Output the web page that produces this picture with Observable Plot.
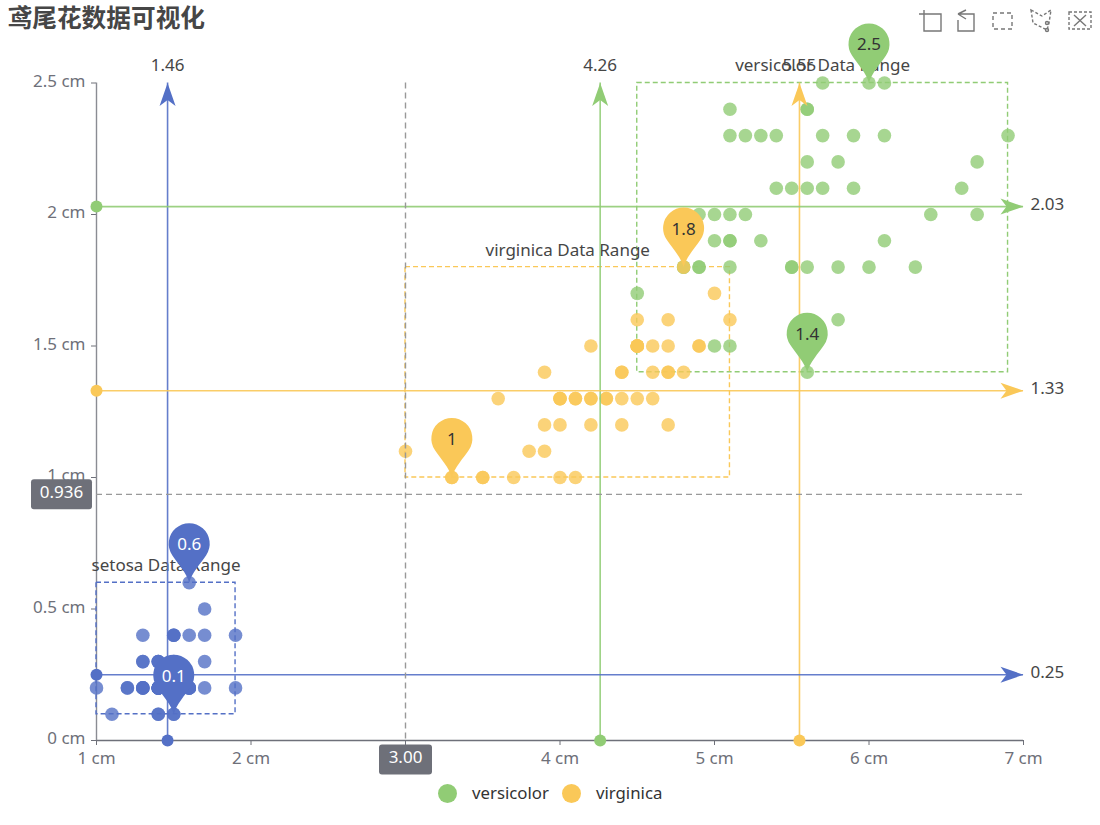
<!DOCTYPE html>
<html><head><meta charset="utf-8">
<script src="https://cdn.jsdelivr.net/npm/d3@7"></script>
<script src="https://cdn.jsdelivr.net/npm/@observablehq/plot@0.6"></script>
<style>
html,body{margin:0;padding:0;background:#fff;overflow:hidden}
#wrap{position:relative;width:1100px;height:825px;font-family:"Noto Sans","Noto Sans CJK SC",sans-serif}
#title{position:absolute;left:7.5px;top:-2px;font:bold 24.7px "Noto Sans CJK SC",sans-serif;color:#464646;line-height:36px}
#legend{position:absolute;top:781px;left:438px;display:flex;align-items:center;font-size:16.8px;color:#333;line-height:24px}
#legend i{display:inline-block;width:19px;height:19px;border-radius:50%;margin-right:15px}
#legend span{margin-right:13px}
#tools{position:absolute;left:915px;top:5px}
svg{display:block}
</style></head><body>
<div id="wrap">
<div id="title"></div>
<div id="chart"></div>
<div id="legend"></div>
<svg id="tools" width="180" height="35" fill="none" stroke="#777" stroke-width="1.4">
<path d="M9 9H26V26H9V5M4 9H13"/>
<path d="M43 9H59V26H43V15M43 9L51 5M43 9L51 14"/>
<path stroke-dasharray="4 3" d="M78 8H97V24H78Z"/>
<path stroke-dasharray="3 2" d="M116 5L127 11L136 5L134 18L132 25L118 18Z"/><circle cx="132" cy="25" r="1.5"/><circle cx="132" cy="18" r="1.5"/>
<path stroke-dasharray="3 2" d="M154 7H176V24H154Z"/><path d="M159 10L171 21M171 10L159 21"/>
</svg>
</div>
<script>
const titleText = "鸢尾花数据可视化";
const legendNames = ["versicolor", "virginica"];
const blue = "#5470C6", green = "#91CC75", yellow = "#FAC858", axisColor = "#6E7079", textColor = "#464646";

// [petal length, petal width]
const setosa = [[1.4,.2],[1.4,.2],[1.3,.2],[1.5,.2],[1.4,.2],[1.7,.4],[1.4,.3],[1.5,.2],[1.4,.2],[1.5,.1],[1.5,.2],[1.6,.2],[1.4,.1],[1.1,.1],[1.2,.2],[1.5,.4],[1.3,.4],[1.4,.3],[1.7,.3],[1.5,.3],[1.7,.2],[1.5,.4],[1,.2],[1.7,.5],[1.9,.2],[1.6,.2],[1.6,.4],[1.5,.2],[1.4,.2],[1.6,.2],[1.6,.2],[1.5,.4],[1.5,.1],[1.4,.2],[1.5,.2],[1.2,.2],[1.3,.2],[1.4,.1],[1.3,.2],[1.5,.2],[1.3,.3],[1.3,.3],[1.3,.2],[1.6,.6],[1.9,.4],[1.4,.3],[1.6,.2],[1.4,.2],[1.5,.2],[1.4,.2]];
const versicolorPts = [[6,2.5],[5.1,1.9],[5.9,2.1],[5.6,1.8],[5.8,2.2],[6.6,2.1],[4.5,1.7],[6.3,1.8],[5.8,1.8],[6.1,2.5],[5.1,2],[5.3,1.9],[5.5,2.1],[5,2],[5.1,2.4],[5.3,2.3],[5.5,1.8],[6.7,2.2],[6.9,2.3],[5,1.5],[5.7,2.3],[4.9,2],[6.7,2],[4.9,1.8],[5.7,2.1],[6,1.8],[4.8,1.8],[4.9,1.8],[5.6,2.1],[5.8,1.6],[6.1,1.9],[6.4,2],[5.6,2.2],[5.1,1.5],[5.6,1.4],[6.1,2.3],[5.6,2.4],[5.5,1.8],[4.8,1.8],[5.4,2.1],[5.6,2.4],[5.1,2.3],[5.1,1.9],[5.9,2.3],[5.7,2.5],[5.2,2.3],[5,1.9],[5.2,2],[5.4,2.3],[5.1,1.8]];
const virginicaPts = [[4.7,1.4],[4.5,1.5],[4.9,1.5],[4,1.3],[4.6,1.5],[4.5,1.3],[4.7,1.6],[3.3,1],[4.6,1.3],[3.9,1.4],[3.5,1],[4.2,1.5],[4,1],[4.7,1.4],[3.6,1.3],[4.4,1.4],[4.5,1.5],[4.1,1],[4.5,1.5],[3.9,1.1],[4.8,1.8],[4,1.3],[4.9,1.5],[4.7,1.2],[4.3,1.3],[4.4,1.4],[4.8,1.4],[5,1.7],[4.5,1.5],[3.5,1],[3.8,1.1],[3.7,1],[3.9,1.2],[5.1,1.6],[4.5,1.5],[4.5,1.6],[4.7,1.5],[4.4,1.3],[4.1,1.3],[4,1.3],[4.4,1.2],[4.6,1.4],[4,1.2],[3.3,1],[4.2,1.3],[4.2,1.2],[4.2,1.3],[4.3,1.3],[3,1.1],[4.1,1.3]];

const ranges = [
  {name:"setosa Data Range", x1:1, x2:1.9, y1:.1, y2:.6, c:blue},
  {name:"versicolor Data Range", x1:4.5, x2:6.9, y1:1.4, y2:2.5, c:green},
  {name:"virginica Data Range", x1:3, x2:5.1, y1:1, y2:1.8, c:yellow}
];
const meanX = [{v:1.46, t:"1.46", c:blue},{v:4.26, t:"4.26", c:green},{v:5.55, t:"5.55", c:yellow}];
const meanY = [{v:.25, t:"0.25", c:blue},{v:2.03, t:"2.03", c:green},{v:1.33, t:"1.33", c:yellow}];
const pins = [
  {x:1.6,y:.6,t:"0.6",c:blue,tc:"#fff"},{x:1.5,y:.1,t:"0.1",c:blue,tc:"#fff"},
  {x:6,y:2.5,t:"2.5",c:green,tc:"#333"},{x:5.6,y:1.4,t:"1.4",c:green,tc:"#333"},
  {x:4.8,y:1.8,t:"1.8",c:yellow,tc:"#333"},{x:3.3,y:1,t:"1",c:yellow,tc:"#333"}
];
const pointerX = 3, pointerY = 0.936;
const xTicks = [1,2,3,4,5,6,7], yTicks = [0,.5,1,1.5,2,2.5];

const pinSymbol = {draw(c){
  c.moveTo(0,0);
  c.bezierCurveTo(2,-9,12,-20,17,-27.5);
  c.arc(0,-39,20.5,0.595,Math.PI-0.595,true);
  c.bezierCurveTo(-12,-20,-2,-9,0,0);
  c.closePath();
}};
const arrowRight = {draw(c){c.moveTo(0,0);c.lineTo(-23,-8);c.lineTo(-17,0);c.lineTo(-23,8);c.closePath();}};
const arrowUp = {draw(c){c.moveTo(0,0);c.lineTo(-8,23);c.lineTo(0,17);c.lineTo(8,23);c.closePath();}};
const tag = (w,h) => ({draw(c){
  const r=3,a=w/2,b=h/2;
  c.moveTo(-a+r,-b);c.lineTo(a-r,-b);c.arc(a-r,-b+r,r,-Math.PI/2,0);
  c.lineTo(a,b-r);c.arc(a-r,b-r,r,0,Math.PI/2);
  c.lineTo(-a+r,b);c.arc(-a+r,b-r,r,Math.PI/2,Math.PI);
  c.lineTo(-a,-b+r);c.arc(-a+r,-b+r,r,Math.PI,Math.PI*1.5);c.closePath();
}});

const seriesDots = (pts,c) => Plot.dot(pts,{x:d=>d[0],y:d=>d[1],r:6.8,fill:c,fillOpacity:.8});
const fs = 17;

const chart = Plot.plot({
  width:1100,height:825,
  marginLeft:96,marginRight:77,marginTop:82.5,marginBottom:85,
  style:{fontFamily:'"Noto Sans","Noto Sans CJK SC",sans-serif',fontSize:"17px",background:"#fff",overflow:"visible"},
  x:{domain:[1,7],label:null},
  y:{domain:[0,2.5],label:null},
  marks:[
    Plot.axisX({ticks:xTicks,tickFormat:d=>d+" cm",tickSize:5,tickPadding:6,fontSize:fs,color:axisColor,label:null,stroke:axisColor}),
    Plot.axisY({ticks:yTicks,tickFormat:()=>"",tickSize:5,color:axisColor,label:null,stroke:axisColor}),
    Plot.axisY({ticks:yTicks,tickFormat:d=>d+" cm",tickSize:0,tickPadding:11,dy:-1.5,fontSize:fs,color:axisColor,label:null}),
    Plot.ruleY([0],{stroke:axisColor,strokeWidth:1.4}),
    Plot.ruleX([1],{stroke:"#8a8c93",strokeWidth:1.4}),
    Plot.rect(ranges,{x1:"x1",x2:"x2",y1:"y1",y2:"y2",fill:"none",stroke:"c",strokeWidth:1.4,strokeDasharray:"5,3"}),
    Plot.text(ranges,{x:d=>(d.x1+d.x2)/2,y:"y2",text:"name",dy:-17,fontSize:fs,fill:textColor}),
    seriesDots(setosa,blue),
    seriesDots(versicolorPts,green),
    seriesDots(virginicaPts,yellow),
    Plot.ruleX(meanX,{x:"v",stroke:"c",strokeWidth:1.6,strokeOpacity:.9}),
    Plot.ruleY(meanY,{y:"v",stroke:"c",strokeWidth:1.6,strokeOpacity:.9}),
    Plot.dot(meanX,{x:"v",y:()=>0,r:6,fill:"c"}),
    Plot.dot(meanY,{x:()=>1,y:"v",r:6,fill:"c"}),
    Plot.dot(meanX,{x:"v",y:()=>2.5,symbol:arrowUp,fill:"c"}),
    Plot.dot(meanY,{x:()=>7,y:"v",symbol:arrowRight,fill:"c"}),
    Plot.text(meanX,{x:"v",y:()=>2.5,text:"t",dy:-17,fontSize:fs,fill:textColor}),
    Plot.text(meanY,{x:()=>7,y:"v",text:"t",dx:7,dy:-2.5,textAnchor:"start",fontSize:fs,fill:textColor}),
    Plot.dot(pins,{x:"x",y:"y",symbol:pinSymbol,fill:"c"}),
    Plot.text(pins,{x:"x",y:"y",text:"t",dy:-38,fontSize:fs,fill:"tc"}),
    Plot.ruleX([pointerX],{stroke:"#999",strokeWidth:1.4,strokeDasharray:"6,4"}),
    Plot.ruleY([pointerY],{stroke:"#999",strokeWidth:1.4,strokeDasharray:"6,4"}),
    Plot.dot([pointerY],{x:()=>1,y:d=>d,dx:-35,symbol:tag(61,30),fill:axisColor}),
    Plot.text([pointerY],{x:()=>1,y:d=>d,dx:-35,dy:-1.5,text:d=>d.toFixed(3),fontSize:fs,fill:"#fff"}),
    Plot.dot([pointerX],{x:d=>d,y:()=>0,dy:19,symbol:tag(53,30),fill:axisColor}),
    Plot.text([pointerX],{x:d=>d,y:()=>0,dy:17.5,text:d=>d.toFixed(2),fontSize:fs,fill:"#fff"})
  ]
});
document.getElementById("chart").append(chart);
document.getElementById("title").textContent = titleText;
const lg = document.getElementById("legend");
[[legendNames[0],green],[legendNames[1],yellow]].forEach(([n,c])=>{
  const i=document.createElement("i");i.style.background=c;lg.append(i);
  const s=document.createElement("span");s.textContent=n;lg.append(s);
});
</script>
</body></html>
